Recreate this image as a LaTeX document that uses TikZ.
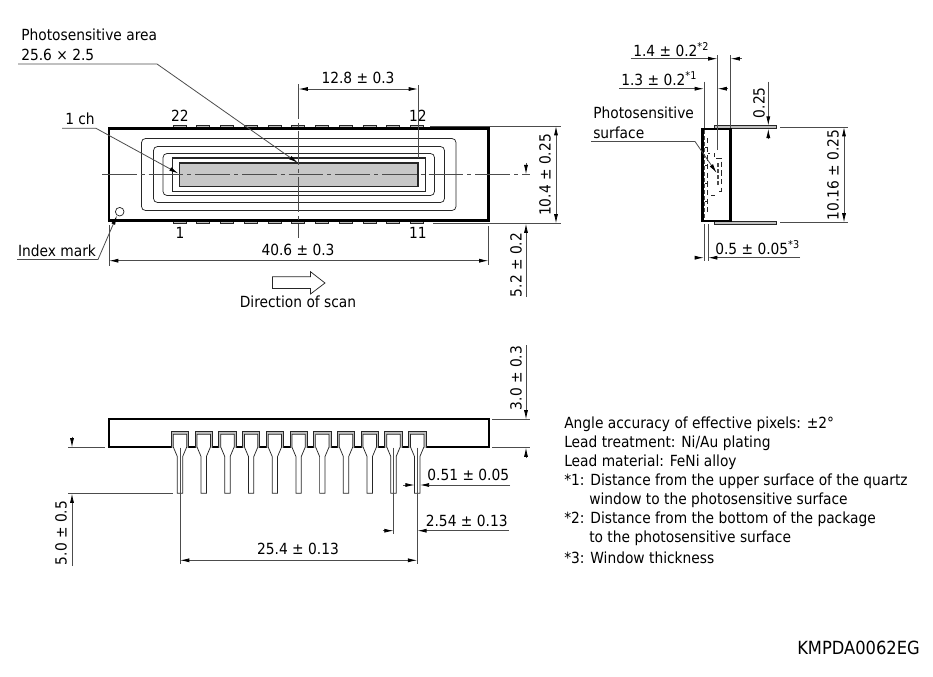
\documentclass[tikz,border=0pt]{standalone}
\usepackage{fontspec}
\setmainfont{DejaVu Sans Condensed}
\usetikzlibrary{arrows.meta, positioning, calc}
\tikzset{
  body/.style = {
    draw,
    line width=1.6pt,
  },
  thinline/.style = {
    draw=black!85,
    line width=.55pt,
  },
  ext/.style = {
    draw=black!70,
    line width=.6pt,
  },
  goes/.style = {
    ext,
    -{Latex[length=7pt, width=3pt, black]},
  },
  both/.style = {
    ext,
    {Latex[length=7pt, width=3pt, black]}-{Latex[length=7pt, width=3pt, black]},
  },
  centerline/.style = {
    ext,
    dash pattern=on 26pt off 3pt on 3pt off 3pt,
  },
  textlabel/.style = {
    font=\fontsize{11.5pt}{13pt}\selectfont,
    inner sep=0pt,
  },
  note/.style = {
    textlabel,
    anchor=west,
  },
  updim/.style = {
    textlabel,
    rotate=90,
  },
  hidden/.style = {
    thinline,
    dash pattern=on 4pt off 2.5pt,
  },
  hiddenGray/.style = {
    ext,
    line width=1.5pt,
    dash pattern=on 3pt off 1.5pt,
  },
}

\begin{document}
\begin{tikzpicture}[x=.75pt, y=-.75pt]
\useasboundingbox (0,0) rectangle (933,676);

% top view
\foreach \i in { 0,...,10 }{
  \pgfmathsetmacro{\px}{179.5+23.76*\i}
  \draw[thinline, fill=black!25] (\px-6.5,125.5) rectangle (\px+6.5,128.5);
  \draw[thinline, fill=black!25] (\px-6.5,220.5) rectangle (\px+6.5,223.5);
}
\path[body, fill=white] (109,128.5) rectangle (488.5,220.5);
\draw[thinline, rounded corners=3pt] (141.5,138.5) rectangle (456,210.5);
\draw[thinline, rounded corners=3pt] (153.5,146.5) rectangle (444.5,202.5);
\draw[thinline, rounded corners=3pt] (163,153.5) rectangle (434.5,195.5);
\draw[thinline, line width=.8pt] (172.5,158) rectangle (425.5,191.5);
\draw[thinline, line width=.8pt, fill=black!22] (179.5,163) rectangle (418,186.5);
\draw[thinline] (119.7,211.7) circle (4.3);

\draw[centerline] (102,174.3) -- (530,174.3);
\draw[centerline] (298.5,84) -- (298.5,238);

\node[textlabel] (Pin22) at (180,116) {22};
\node[textlabel] (Pin12) at (418,116) {12};
\node[textlabel] (Pin1) at (180,233) {1};
\node[textlabel] (Pin11) at (418,233) {11};

\node[note] (AreaName) at (21,35) {Photosensitive area};
\node[note] (AreaSize) at (21,55) {25.6 × 2.5};
\draw[goes] (18,64) -- (157,64) -- (298,163);
\node[textlabel] (OneCh) at (80,119) {1 ch};
\draw[goes] (62,128.3) -- (96,128.3) -- (178.5,173.5);
\node[textlabel] (Index) at (57,251) {Index mark};
\draw[goes] (17,259.5) -- (98,259.5) -- (117,215.5);

% dimensions of the top view
\draw[ext] (418,85) -- (418,158);
\draw[both] (298.5,89) -- (418,89);
\node[textlabel] (DimA) at (358,78) {12.8 ± 0.3};

\draw[ext] (109,225) -- (109,266);
\draw[ext] (488.5,226) -- (488.5,265);
\draw[both] (109,260.7) -- (488.5,260.7);
\node[textlabel] (DimB) at (298,250) {40.6 ± 0.3};

\draw[ext] (430,126) -- (561,126);
\draw[ext] (433,223.5) -- (561,223.5);
\draw[both] (556,126) -- (556,223.5);
\node[updim] (DimC) at (545,175) {10.4 ± 0.25};

\draw[goes] (526,163) -- (526,174.3);
\draw[goes] (526,297) -- (526,223.5);
\node[updim] (DimD) at (516,265) {5.2 ± 0.2};

\draw[thinline] (272.5,276.7) -- (310.5,276.7) -- (310.5,271.7) -- (325,283)
  -- (310.5,294) -- (310.5,288.5) -- (272.5,288.5) -- cycle;
\node[textlabel] (Scan) at (298,302) {Direction of scan};

% side view
\draw[hiddenGray] (704.3,130) -- (704.3,219);
\draw[hidden] (707.7,138) -- (707.7,212);
\foreach \py in { 147, 165, 183, 201 }{
  \draw[thinline] (705,\py) -- (707.7,\py);
}
\draw[hiddenGray] (718,163) -- (718,187);
\draw[hidden] (708,153) -- (710,153);
\draw[hidden] (714,153) -- (714,157);
\draw[hidden] (716,158) -- (721,158) -- (721,191) -- (716,191);
\draw[thinline] (711,195.5) -- (715,195.5);
\draw[thinline, fill=black!25] (714,125.7) rectangle (776.5,128.7);
\draw[thinline, fill=black!25] (714,221) rectangle (776.5,224.5);
\path[body] (702.5,128.7) rectangle (730.5,221);

\node[note] (SurfA) at (593,113) {Photosensitive};
\node[note] (SurfB) at (593,133) {surface};
\draw[goes] (591,141.5) -- (695,141.5) -- (716.7,173);

% dimensions of the side view
\draw[ext] (717.5,55) -- (717.5,150);
\draw[ext] (730.5,55) -- (730.5,128);
\draw[goes] (630.7,58.7) -- (717.5,58.7);
\draw[goes] (741.7,58.7) -- (730.5,58.7);
\node[note] (DimE) at (633,50) {1.4 ± 0.2\textsuperscript{*2}};

\draw[ext] (704,81.7) -- (704,128);
\draw[goes] (619.3,88.7) -- (704,88.7);
\draw[goes] (728,88.7) -- (717.5,88.7);
\node[note] (DimF) at (621,79) {1.3 ± 0.2\textsuperscript{*1}};

\draw[goes] (768.3,81.7) -- (768.3,125.7);
\draw[goes] (768.3,139.3) -- (768.3,128.7);
\node[updim] (DimG) at (759,102.7) {0.25};

\draw[ext] (780,127) -- (848,127);
\draw[ext] (780,222.5) -- (848,222.5);
\draw[both] (844,127) -- (844,222.5);
\node[updim] (DimH) at (833,175) {10.16 ± 0.25};

\draw[ext] (704,224) -- (704,261);
\draw[ext] (708,224) -- (708,261);
\draw[goes] (695,257.7) -- (704,257.7);
\draw[goes] (800,257.7) -- (708,257.7);
\node[note] (DimI) at (715,248) {0.5 ± 0.05\textsuperscript{*3}};

% bottom view
\path[body] (108.7,419.3) rectangle (489,447.3);
\foreach \i in { 0,...,10 }{
  \pgfmathsetmacro{\px}{180+23.72*\i}
  \path[fill=black!25] (\px-8.7,447.5) rectangle (\px+8.7,431.7);
  \draw[thinline] (\px-8.7,447.5) -- (\px-8.7,431.7) -- (\px+8.7,431.7) -- (\px+8.7,447.5);
  \draw[thinline, fill=white] (\px-6.7,434.3) -- (\px+6.7,434.3) -- (\px+6.7,447) -- (\px+2.7,456.5)
    -- (\px+2.7,493.3) -- (\px-2.7,493.3) -- (\px-2.7,456.5) -- (\px-6.7,447) -- cycle;
}

% dimensions of the bottom view
\draw[ext] (68,447.5) -- (105,447.5);
\draw[ext] (68,493.5) -- (173.3,493.5);
\draw[goes] (72,436.7) -- (72,447.5);
\draw[goes] (72,566) -- (72,493.5);
\node[updim] (DimJ) at (61,533) {5.0 ± 0.5};

\draw[ext] (180,447.5) -- (180,564);
\draw[ext] (417.3,447.5) -- (417.3,564);
\draw[both] (180,560.3) -- (417.3,560.3);
\node[textlabel] (DimK) at (298,549) {25.4 ± 0.13};

\draw[ext] (492.3,419.5) -- (530,419.5);
\draw[ext] (492.3,447.5) -- (530,447.5);
\draw[goes] (526,345) -- (526,419.5);
\draw[goes] (526,458) -- (526,447.5);
\node[updim] (DimL) at (516,378) {3.0 ± 0.3};

\draw[goes] (403.3,485) -- (414.7,485);
\draw[goes] (510,485) -- (419.8,485);
\node[textlabel] (DimM) at (468.3,475) {0.51 ± 0.05};

\draw[ext] (393.6,447.5) -- (393.6,534);
\draw[goes] (382.7,530.7) -- (393.6,530.7);
\draw[goes] (508.7,530.7) -- (417.3,530.7);
\node[textlabel] (DimN) at (466.7,521) {2.54 ± 0.13};

% notes
\node[note] (NoteA) at (564,424) {Angle accuracy of effective pixels: ±2°};
\node[note] (NoteB) at (564,443) {Lead treatment: Ni/Au plating};
\node[note] (NoteC) at (564,462) {Lead material: FeNi alloy};
\node[note] (NoteD) at (564,481) {*1: Distance from the upper surface of the quartz};
\node[note] (NoteE) at (589,500) {window to the photosensitive surface};
\node[note] (NoteF) at (564,519) {*2: Distance from the bottom of the package};
\node[note] (NoteG) at (589,538) {to the photosensitive surface};
\node[note] (NoteH) at (564,558) {*3: Window thickness};
\node[textlabel, anchor=east, font=\fontsize{13.6pt}{15pt}\selectfont] (Code) at (920,648) {KMPDA0062EG};

\end{tikzpicture}
\end{document}
